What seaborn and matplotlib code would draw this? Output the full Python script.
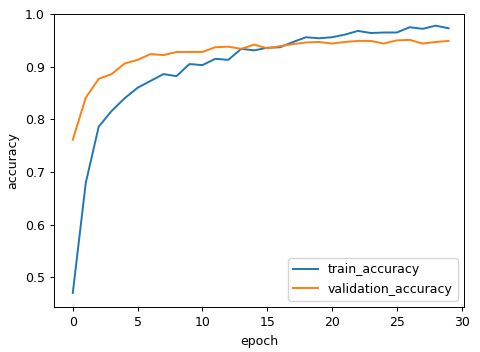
import numpy as np
import pandas as pd
import matplotlib
matplotlib.use("Agg")
import matplotlib.pyplot as plt
import seaborn as sns

epochs = list(range(30))
train_accuracy = [0.470, 0.679, 0.786, 0.816, 0.840, 0.860, 0.873, 0.886, 0.882, 0.905,
                  0.903, 0.915, 0.913, 0.934, 0.931, 0.936, 0.937, 0.947, 0.956, 0.954,
                  0.956, 0.961, 0.968, 0.964, 0.965, 0.965, 0.975, 0.972, 0.978, 0.973]
validation_accuracy = [0.761, 0.841, 0.877, 0.886, 0.906, 0.913, 0.924, 0.922, 0.928, 0.928,
                       0.928, 0.937, 0.938, 0.934, 0.942, 0.935, 0.939, 0.943, 0.946, 0.947,
                       0.944, 0.947, 0.949, 0.949, 0.944, 0.950, 0.951, 0.944, 0.947, 0.949]

df = pd.DataFrame({
    "epoch": epochs * 2,
    "accuracy": train_accuracy + validation_accuracy,
    "series": ["train_accuracy"] * 30 + ["validation_accuracy"] * 30,
})

plt.rcParams["font.size"] = 9
fig, ax = plt.subplots(figsize=(4.8, 3.52), dpi=100)
fig.subplots_adjust(left=0.1125, right=0.967, top=0.96, bottom=0.128)

sns.lineplot(data=df, x="epoch", y="accuracy", hue="series",
             palette=["#1f77b4", "#ff7f0e"], linewidth=1.4, ax=ax)

ax.set_xlim(-1.45, 30.2)
ax.set_ylim(0.4434, 1.0)
ax.set_xticks([0, 5, 10, 15, 20, 25, 30])
ax.set_yticks([0.5, 0.6, 0.7, 0.8, 0.9, 1.0])
ax.tick_params(length=3, width=0.7)
for s in ax.spines.values():
    s.set_linewidth(0.7)
ax.set_xlabel("epoch")
ax.set_ylabel("accuracy")
ax.legend(loc="lower right", title=None)

fig.savefig("out.png", dpi=100)
